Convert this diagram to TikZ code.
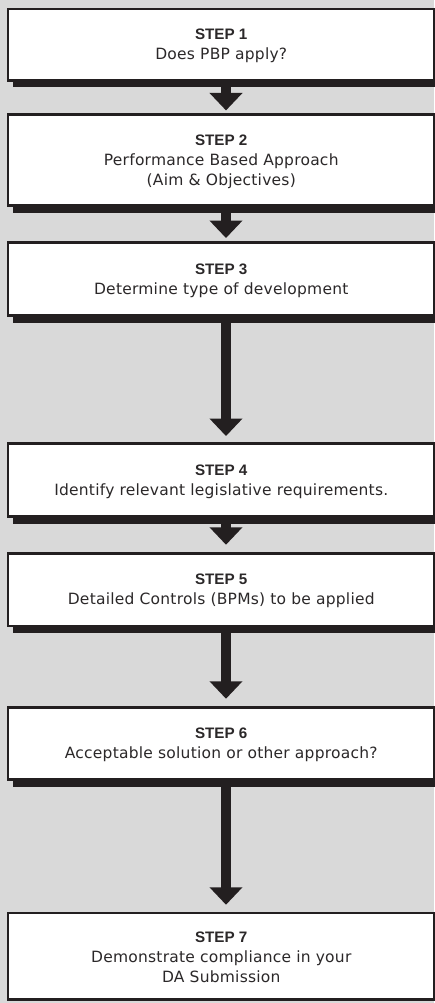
\documentclass[tikz,border=0pt]{standalone}
\usepackage{fontspec}
\setmainfont{Liberation Sans}
\newfontfamily\regfont[LetterSpace=1.5]{DejaVu Sans}
\usetikzlibrary{shadows,arrows.meta,calc}
\definecolor{bg}{HTML}{D9D9D9}
\definecolor{ink}{HTML}{231F20}
\definecolor{txt}{HTML}{2B2829}
\begin{document}
\begin{tikzpicture}[x=1pt,y=-1pt,
  stepbox/.style={draw=ink, line width=2.5pt, fill=white, text=txt, align=center,
    inner sep=0pt, minimum width=426.5pt, font=\fontsize{15.2}{20}\selectfont},
  shadowed/.style={general shadow={fill=ink, shadow xshift=4.75pt, shadow yshift=-7pt}},
  flow/.style={draw=ink, line width=10pt, -{Triangle[width=32pt,length=17.5pt]}}]
\fill[bg] (0,0) rectangle (434,1003);
\useasboundingbox (0,0) rectangle (434,1003);

\newcommand\rg[1]{{\regfont\fontsize{15.5}{20}\selectfont #1}}
\newcommand\hd[1]{\rule{0pt}{13.5pt}\textbf{#1}}

\node[stepbox, shadowed, minimum height=71.5pt] (s1) at (221.25,44.75)
  {\hd{STEP 1}\\\rg{Does PBP apply?}};
\node[stepbox, shadowed, minimum height=91pt] (s2) at (221.25,160)
  {\hd{STEP 2}\\\rg{Performance Based Approach}\\\rg{(Aim \& Objectives)}};
\node[stepbox, shadowed, minimum height=73pt] (s3) at (221.25,279)
  {\hd{STEP 3}\\\rg{Determine type of development}};
\node[stepbox, shadowed, minimum height=73pt] (s4) at (221.25,480)
  {\hd{STEP 4}\\\rg{Identify relevant legislative requirements.}};
\node[stepbox, shadowed, minimum height=72.5pt] (s5) at (221.25,589.75)
  {\hd{STEP 5}\\\rg{Detailed Controls (BPMs) to be applied}};
\node[stepbox, shadowed, minimum height=72pt] (s6) at (221.25,743.5)
  {\hd{STEP 6}\\\rg{Acceptable solution or other approach?}};
\node[stepbox, minimum height=86.5pt] (s7) at (221.25,956.25)
  {\hd{STEP 7}\\\rg{Demonstrate compliance in your}\\\rg{DA Submission}};

\draw[flow] ($(s1.south)+(4.75,5)$) -- ($(s2.north)+(4.75,-2.8)$);
\draw[flow] ($(s2.south)+(4.75,5)$) -- ($(s3.north)+(4.75,-3.2)$);
\draw[flow] ($(s3.south)+(4.75,5)$) -- ($(s4.north)+(4.75,-6.2)$);
\draw[flow] ($(s4.south)+(4.75,5)$) -- ($(s5.north)+(4.75,-7.5)$);
\draw[flow] ($(s5.south)+(4.75,5)$) -- ($(s6.north)+(4.75,-7.5)$);
\draw[flow] ($(s6.south)+(4.75,5)$) -- ($(s7.north)+(4.75,-7)$);
\end{tikzpicture}
\end{document}
